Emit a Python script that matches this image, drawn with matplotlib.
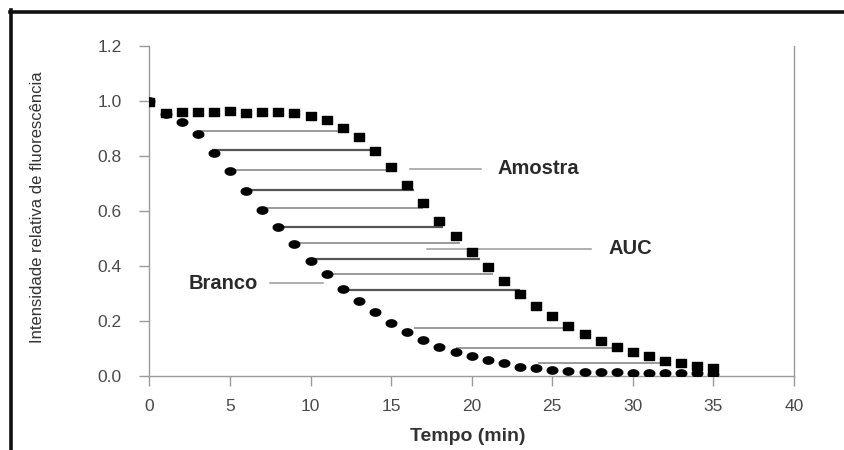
import numpy as np
import matplotlib
matplotlib.use("Agg")
import matplotlib.pyplot as plt
from matplotlib.path import Path
from matplotlib.lines import Line2D

plt.rcParams['font.family'] = ['Liberation Sans', 'DejaVu Sans']

# ---- data ----
tempo = list(range(0, 36))
branco = [1.00, 0.952, 0.923, 0.879, 0.810, 0.744, 0.672, 0.603, 0.541, 0.479,
          0.417, 0.370, 0.315, 0.272, 0.232, 0.193, 0.159, 0.130, 0.106, 0.088,
          0.072, 0.057, 0.046, 0.033, 0.028, 0.021, 0.017, 0.015, 0.013, 0.012,
          0.010, 0.010, 0.010, 0.010, 0.010, 0.008]
amostra = [0.995, 0.955, 0.959, 0.959, 0.959, 0.963, 0.955, 0.959, 0.959, 0.955,
           0.944, 0.930, 0.901, 0.868, 0.817, 0.759, 0.693, 0.628, 0.563, 0.508,
           0.450, 0.395, 0.344, 0.297, 0.253, 0.217, 0.181, 0.152, 0.127, 0.104,
           0.086, 0.072, 0.054, 0.046, 0.035, 0.028]

# horizontal AUC lines: level, start, end (data units)
auc_y = [0.890, 0.821, 0.748, 0.675, 0.610, 0.541, 0.483, 0.425, 0.370, 0.312,
         0.173, 0.100, 0.046]
auc_x0 = [3.0, 3.9, 5.0, 6.0, 7.0, 8.0, 9.0, 10.0, 11.0, 12.0, 16.4, 19.0, 24.1]
auc_x1 = [11.8, 14.1, 14.9, 16.4, 17.0, 18.2, 19.3, 20.5, 21.3, 23.0, 25.8, 28.7, 32.1]
auc_dark = [False, True, False, True, False, True, False, True, False, True,
            False, False, False]

# annotations: label, text x, pointer start, pointer end, level
ann_labels = ["Amostra", "AUC", "Branco"]
ann_text_x = [21.6, 28.5, 6.7]
ann_ha = ["left", "left", "right"]
ann_line_x0 = [16.2, 17.2, 7.5]
ann_line_x1 = [20.6, 27.4, 10.8]
ann_y = [0.752, 0.461, 0.337]

xticks = [0, 5, 10, 15, 20, 25, 30, 35, 40]
yticks = [0.0, 0.2, 0.4, 0.6, 0.8, 1.0, 1.2]

# ---- markers (horizontally stretched) ----
th = np.linspace(0, 2 * np.pi, 40)
ellipse = Path(np.column_stack([np.cos(th) * 1.45, np.sin(th)]), closed=True)
rect = Path([(-1.4, -1.0), (1.4, -1.0), (1.4, 1.0), (-1.4, 1.0), (-1.4, -1.0)], closed=True)

fig = plt.figure(figsize=(8.45, 4.5), dpi=100)
ax = fig.add_axes([0.1769, 0.165, 0.7627, 0.7336])

for y, x0, x1, dk in zip(auc_y, auc_x0, auc_x1, auc_dark):
    ax.plot([x0, x1], [y, y], color='#555555' if dk else '#8a8a8a',
            lw=1.6 if dk else 1.2, zorder=2, solid_capstyle='butt')

for x0, x1, y in zip(ann_line_x0, ann_line_x1, ann_y):
    ax.plot([x0, x1], [y, y], color='#9a9a9a', lw=1.1, zorder=2)

ax.plot(tempo, branco, linestyle='none', marker=ellipse, markersize=7.6,
        color='black', zorder=3)
ax.plot(tempo, amostra, linestyle='none', marker=rect, markersize=7.4,
        color='black', zorder=4)

for lab, tx, ha, y in zip(ann_labels, ann_text_x, ann_ha, ann_y):
    ax.text(tx, y, lab, ha=ha, va='center', fontsize=14.5, fontweight='bold',
            color='#2a2a2a')

ax.set_xlim(0, 40)
ax.set_ylim(0, 1.2)
ax.set_xticks(xticks)
ax.set_xticklabels([str(v) for v in xticks])
ax.set_yticks(yticks)
ax.set_yticklabels([f"{v:.1f}" for v in yticks])

for s in ['left', 'right', 'bottom']:
    ax.spines[s].set_color('#9a9a9a')
    ax.spines[s].set_linewidth(1.0)
ax.spines['top'].set_visible(False)

ax.tick_params(axis='both', direction='out', color='#9a9a9a', length=7,
               width=1.0, labelsize=12.5, labelcolor='#4a4a4a')
ax.tick_params(axis='y', pad=13)
ax.tick_params(axis='x', pad=10)

ax.set_xlabel("Tempo (min)", fontsize=14, fontweight='bold', color='#333333')
ax.xaxis.set_label_coords(0.494, -0.158)
ax.set_ylabel("Intensidade relativa de fluorescência", fontsize=12, color='#333333')
ax.yaxis.set_label_coords(-0.162, 0.511)

# figure frame (top and left)
fig.add_artist(Line2D([10 / 845, 1.0], [1 - 11.5 / 450, 1 - 11.5 / 450],
                      transform=fig.transFigure, color='#111111', lw=2.6))
fig.add_artist(Line2D([11.5 / 845, 11.5 / 845], [0.0, 1 - 10 / 450],
                      transform=fig.transFigure, color='#111111', lw=2.6))

fig.savefig("out.png", dpi=100)
